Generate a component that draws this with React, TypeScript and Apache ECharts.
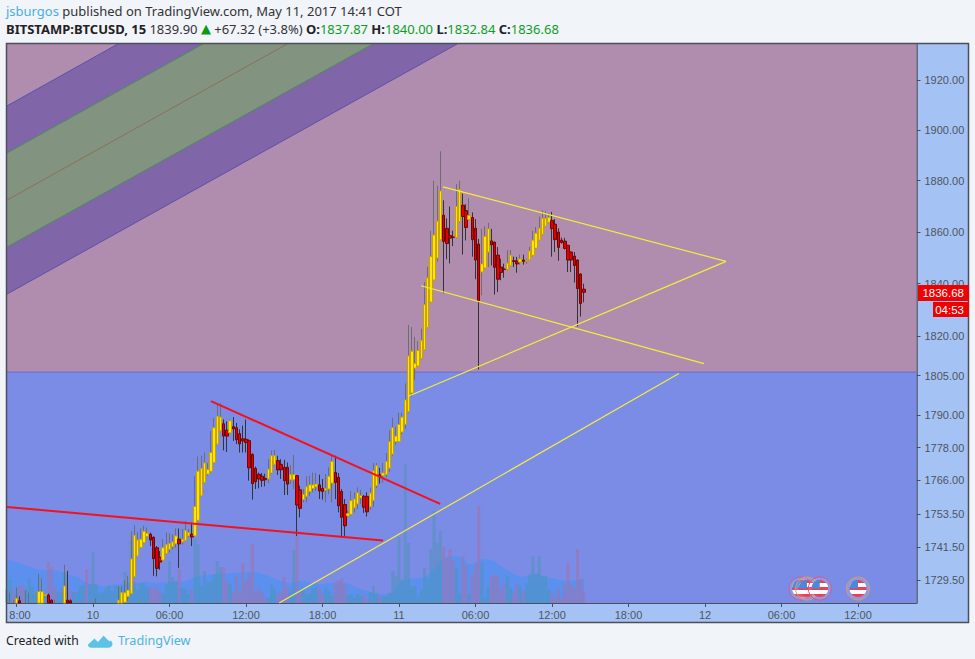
import React, { useEffect, useRef } from "react";
import * as echarts from "echarts";

// ---------- data ----------
const firstBar = -123; // bar index of the first candle; index 0 is 11 May 00:00, one bar = 15 min
// [open, close, low, high]
const candles: number[][] = [
  [1716,1718,1715,1720],[1716,1718,1715,1724.9],[1718,1716,1714,1722.2],[1718,1722.8,1716,1726.8],[1722,1719,1717,1723.6],
  [1719,1717,1715,1720],[1717,1719,1716,1725.8],[1716,1718,1714,1724.9],[1717,1718,1714,1720],[1717,1718,1713,1719],
  [1719,1725.3,1718,1731.7],[1718,1725.3,1717,1730.1],[1723.8,1724.2,1723.5,1724.5],[1724,1716,1712,1724.6],[1722.2,1720,1718,1722.5],
  [1720,1718,1716,1722.4],[1717,1718,1715,1719],[1716.5,1718.2,1715,1719.4],[1721,1727.3,1720,1735],[1722.2,1720,1716,1732.8],
  [1722,1720.5,1718,1722.5],[1719,1720,1717,1720.6],[1718,1719.5,1716,1720.2],[1717,1718.6,1715,1719.5],[1716.5,1718,1714.5,1719],
  [1718,1716,1713,1719],[1715,1717,1713,1718],[1715,1717.5,1712,1719],[1716,1718.5,1714,1722.8],[1716.5,1718,1715,1719.5],
  [1716,1718.5,1715,1720],[1716.5,1719,1715.5,1720],[1717,1719,1716,1720.5],[1717.5,1719.5,1716,1720.6],[1718,1720,1716.5,1720.8],
  [1721.2,1722.2,1720,1727.3],[1721.2,1724.9,1720,1727.3],[1721.5,1724.9,1720,1729.3],[1723.6,1725.8,1722,1731],[1724.6,1737.1,1724.4,1747.2],
  [1730.7,1745.7,1730.5,1749.4],[1738.2,1744,1738.2,1747],[1741.3,1744.3,1741,1748.2],[1743,1747.2,1742.8,1749.2],[1745.3,1746.5,1745,1748.6],
  [1746.1,1744,1741.8,1746.7],[1745,1737.2,1731,1745.3],[1741.2,1733.7,1730.8,1741.8],[1737.7,1736,1733.2,1740],[1736.7,1741.2,1736.3,1744.3],
  [1739.1,1742.3,1738.8,1746.7],[1740.6,1742.7,1739.4,1746.5],[1741.6,1743.3,1740.6,1746.1],[1742.6,1745.5,1741.2,1748.2],[1744.3,1742.6,1733.9,1748.2],
  [1743.3,1744.3,1742.4,1748],[1743.8,1747.4,1743.6,1751],[1745.5,1746.7,1745,1748],[1746.1,1745.1,1741.8,1750.4],[1745.5,1756.3,1745.5,1767.4],
  [1751.2,1769.3,1750.9,1774.7],[1760.2,1770.3,1760.2,1775],[1765.1,1772.3,1764.9,1776.2],[1768.2,1769.9,1767.6,1772.3],[1769.2,1776.2,1768.9,1784.2],
  [1772.5,1785.4,1772.3,1789],[1779.3,1789.7,1779.3,1794.6],[1784.3,1789.4,1784.2,1794.6],[1786.9,1782.3,1777,1788.5],[1784.5,1782.3,1776.4,1787.8],
  [1783.5,1788,1783.3,1788.5],[1785.8,1785,1780.5,1789.4],[1785.4,1780.9,1779.3,1787.2],[1783.2,1779.4,1776.2,1784.8],[1781.3,1780.5,1776.2,1786.2],
  [1781.1,1779.9,1776.2,1788.5],[1780.6,1770.5,1765.8,1781.1],[1775.5,1764.7,1758.8,1775.9],[1770.3,1765.4,1762.7,1771],[1768.1,1766.4,1762.9,1768.8],
  [1767.4,1765.9,1763.5,1768.6],[1766.6,1766.1,1763.7,1768.3],[1766.4,1770,1764.9,1773.7],[1768.6,1775,1768.2,1777],[1771.8,1775,1771.5,1777.2],
  [1773.2,1769.8,1767.9,1775],[1771.8,1769.8,1766.4,1773.7],[1770.7,1765.8,1760.5,1773.5],[1770.7,1764.5,1760.5,1772.5],[1766.1,1768,1764.5,1771.5],
  [1766.1,1768,1762.7,1775.3],[1767.6,1756.8,1745.5,1767.9],[1762.4,1755.6,1752.3,1763.9],[1758.8,1760.7,1757.8,1762.7],[1760,1763.5,1757.8,1767.4],
  [1761.8,1764.2,1760.2,1767.6],[1762.9,1764.2,1761.5,1768.8],[1763.5,1764.5,1762,1768.6],[1764.2,1762,1759,1768],[1762.9,1761.8,1758.8,1766.4],
  [1762.3,1762.9,1757.8,1768.2],[1762.7,1767.4,1760.8,1770.7],[1764.9,1772.9,1757.8,1775.3],[1768.8,1765.1,1759,1775],[1767,1756.5,1754.1,1768.6],
  [1761.8,1752.3,1745.5,1762.7],[1757,1749.2,1745.5,1759],[1752.8,1753.7,1752.3,1754.8],[1753.4,1758.4,1752.9,1762],[1755.8,1759,1754.1,1761.5],
  [1757.2,1761.3,1755.3,1763.3],[1759.4,1760.2,1757.2,1762.4],[1760,1756,1753.9,1760.5],[1760,1754.3,1752.6,1761.5],[1756.3,1761.2,1755,1763.2],
  [1758.5,1769.4,1756,1772.3],[1763.9,1771.3,1763,1772.3],[1767.9,1767.4,1764.7,1770.5],[1767.6,1768.6,1765,1772.3],[1768,1772.8,1767,1776],
  [1770.4,1780.2,1769,1784.5],[1775.6,1785.4,1775,1789.2],[1780.2,1782.3,1779,1785.8],[1780.2,1786.6,1780,1791],[1783.8,1789.4,1783,1791],
  [1786.7,1795.8,1785,1802],[1791.4,1812.4,1791,1824.2],[1798.4,1814.2,1797,1823.4],[1807.8,1809.6,1803.4,1819.6],[1808.6,1814.5,1808.3,1818],
  [1811.4,1818.3,1811.1,1822.7],[1814.7,1831.9,1814.5,1840.6],[1823.2,1842.2,1823,1846.5],[1832.9,1850.4,1832.7,1860.4],[1841.4,1858.8,1841.2,1880],
  [1849.9,1864.2,1848.6,1878.1],[1857,1876,1856.8,1891.6],[1866.5,1856.3,1836.3,1872.3],[1861.4,1855.5,1849.4,1865.3],[1858.6,1857.6,1847.8,1869.9],
  [1858,1857.9,1854.5,1860.5],[1857.8,1869.9,1857.5,1878.7],[1864,1876.6,1863.7,1880],[1870.4,1866,1851.2,1874.9],[1868.3,1861.7,1856.7,1870.8],
  [1864.8,1866.4,1864.5,1873.1],[1865.6,1857,1850.4,1867.6],[1861.4,1849.1,1841.7,1865],[1855.3,1833.4,1807.3,1857.3],[1844.5,1847.6,1835.5,1861.2],
  [1846,1858.3,1845.7,1862.2],[1852.2,1861.2,1846.4,1863.5],[1856.5,1855,1847,1861.2],[1856,1846.3,1835.8,1856.3],[1851,1841.7,1836.8,1854.1],
  [1846.4,1844.3,1841.3,1849.6],[1845.6,1845.5,1842.3,1847.7],[1845.5,1847.9,1845.1,1853],[1846.9,1851,1846.7,1853],[1848.8,1848.6,1846.4,1850.4],
  [1848.7,1847.6,1844.2,1850.3],[1848.3,1849.5,1847.3,1851.2],[1849.1,1848.6,1847.3,1851.2],[1848.7,1849.1,1847.7,1849.6],[1849.1,1852.6,1848.8,1854.2],
  [1850.9,1856.8,1850.6,1860.4],[1853.7,1859.5,1853.4,1861.9],[1856.8,1861.4,1856.5,1866],[1859,1865.3,1858.7,1868.3],[1862.2,1865.3,1861.9,1868],
  [1863.7,1865.6,1863.4,1867.3],[1864.5,1861.3,1850.4,1867.8],[1863,1857,1852.2,1865],[1859.9,1854,1848.8,1861.4],[1856.8,1855.9,1855.4,1857.8],
  [1856.4,1853.6,1853.2,1857.7],[1854.8,1849.1,1844.5,1855],[1852.2,1849.1,1844.5,1852.4],[1850.6,1847,1840.4,1852.2],[1849.1,1838.1,1823.6,1849.4],
  [1843.7,1832.4,1827.4,1844],[1837.87,1836.68,1832.84,1840],
];
const volumes: number[] = [
  14,23,14,9,17,18,13,25,16,11,11,12,9,41,36,16,11,11,31,23,12,11,10,17,18,34,19,51,19,10,11,14,17,12,17,17,14,31,21,62,
  21,14,20,20,16,16,15,16,12,9,19,42,26,22,34,15,14,9,14,64,59,17,32,21,22,29,42,36,36,21,19,11,27,12,40,23,29,59,11,16,
  11,6,5,18,14,9,11,26,16,12,53,74,14,15,9,10,15,17,15,9,16,12,7,20,23,25,19,7,9,5,9,7,9,4,11,17,10,7,7,7,
  10,32,27,66,24,139,60,17,17,7,14,35,24,54,92,60,72,56,45,54,42,35,10,47,38,9,28,39,97,40,5,16,27,29,27,14,20,27,15,10,
  19,17,12,20,29,47,29,47,27,27,14,10,5,14,5,19,40,19,15,54,24,12,
];
// [bar index, average volume], read at the visible bends of the average
const volumeAverage: number[][] = [
  [-123,43],[-120,41],[-118,39],[-115,35],[-112,33],[-109,33],[-107,32],[-104,29],[-101,26],[-99,22],[-97,19],[-95,18],[-92,17],
  [-88,19],[-84,19],[-80,21],[-76,20],[-72,21],[-68,21],[-64,26],[-60,28],[-56,29],[-52,30],[-46,31],[-41,27],[-38,23],[-34,20],
  [-31,22],[-25,19],[-18,21],[-13,15],[-10,12],[-6,9],[-3,9],[0,20],[3,24],[8,26],[11,34],[14,44],[17,47],[20,45],[22,39],[24,40],
  [26,44],[29,43],[32,37],[35,31],[39,26],[43,29],[46,26],[49,24],[53,22],[58,24],
];
const timeTicks = [-120, -96, -72, -48, -24, 0, 24, 48, 72, 96, 120, 144];
const timeLabels = ["8:00", "10", "06:00", "12:00", "18:00", "11", "06:00", "12:00", "18:00", "12", "06:00", "12:00"];
const priceTicks = [1729.5, 1741.5, 1753.5, 1766, 1778, 1790, 1805, 1820, 1840, 1860, 1880, 1900, 1920];
const priceMin = 1721.2;
const priceMax = 1934.5;
const barMin = -122.98;
const barMax = 162.35;
const zoneSplit = 1806.3;
// [from bar, from price, to bar, to price]
const triangleLines = [
  [13.8, 1877.6, 102.6, 1848.6],
  [3.1, 1797.3, 102.6, 1848.6],
  [6.9, 1839.2, 95.7, 1809.5],
  [-37.6, 1721.2, 87.8, 1805.8],
];
const redLines = [
  [-59, 1795.4, 12.9, 1757.2],
  [-123, 1756.1, -5, 1743.8],
];
// regression channel: price at the left edge, bar where it leaves at the top
const channelStart = [1909.6, 1890.9, 1872.4, 1854.1, 1836];
const channelExit = [-88.2, -61.5, -35.1, -8.2, 18.2];
const eventBars = [126, 128, 132, 144];
const eventKinds = [0, 1, 0, 1];
const eventPrice = 1726.4;

const C = {
  page: "#F1F4F9", pane: "#A4C3F4", frame: "#4C4F5A", upper: "#B08CAE", lower: "#7A8CE5", zoneLine: "#6A6CCB",
  purple: "#8066A8", green: "#82937F", edgeBlue: "#5A50AE", edgeGreen: "#4B8B5E", edgeBrown: "#8F6F55",
  upFill: "#FFE600", upEdge: "#C9A400", downFill: "#E10000", downEdge: "#6E0606", upWick: "#6E6E6E", downWick: "#333333",
  volUp: "rgba(66,150,170,0.42)", volDown: "rgba(170,110,165,0.5)", avg: "rgba(50,150,250,0.6)",
  yellow: "#F5EC3C", red: "#F5101E", text: "#4F5460", label: "#F00000", cloud: "#5EC1E8", link: "#4FB3DE", green2: "#0F9D1E",
};

const logoCloud = "M0 12.5 L6.5 6.2 L10 9.5 L15.5 3 L19.5 7.5 C22.5 7.6 24.5 9.6 24.5 12 C24.5 14.4 22.4 15.8 20 15.8 L3.2 15.8 C1.2 15.8 0 14.5 0 12.5 Z";
echarts.graphic.registerShape("tvLogo", echarts.graphic.extendPath(logoCloud as any, {}) as any);

export default function App() {
  const ref = useRef<HTMLDivElement>(null);
  useEffect(() => {
    document.body.style.margin = "0";
    document.body.style.background = C.page;
    const chart = echarts.init(ref.current!, null, { renderer: "svg" });
    // candlestick marks are not cut at the axis, so parts below the axis minimum are stopped there
    const floor = (v: number) => Math.max(v, priceMin);
    const rows = candles
      .map((c, i) => [firstBar + i, floor(c[0]), floor(c[1]), floor(c[2]), floor(c[3])])
      .filter((r) => r[4] > priceMin);
    const bodies = candles
      .map((c, i) => [firstBar + i, floor(c[0]), floor(c[1]), floor(Math.min(c[0], c[1])), floor(Math.max(c[0], c[1]))])
      .filter((r) => r[4] > priceMin);
    const volumeRows = volumes.map((v, i) => ({
      value: [firstBar + i, v],
      itemStyle: { color: candles[i][1] >= candles[i][0] ? C.volUp : C.volDown },
    }));
    const lineSeries = (p: number[], color: string, width: number, z: number) => ({
      type: "line", data: [[p[0], p[1]], [p[2], p[3]]], showSymbol: false, symbol: "none", silent: true, z,
      lineStyle: { color, width }, xAxisIndex: 0, yAxisIndex: 0,
    });
    const channelRows = [0, 1, 2, 3].map((i) => [firstBar, channelStart[i], channelExit[i], priceMax, channelExit[i + 1], priceMax, firstBar, channelStart[i + 1], i]);
    const channelColors = [C.purple, C.green, C.green, C.purple];
    const edgeColors = [C.edgeBlue, C.edgeGreen, C.edgeBrown, C.edgeGreen, C.edgeBlue];
    chart.setOption({
      animation: false,
      backgroundColor: "transparent",
      grid: { left: 7, top: 44, width: 909.5, height: 559, containLabel: false },
      xAxis: {
        type: "value", min: barMin, max: barMax, splitLine: { show: false },
        axisLine: { lineStyle: { color: C.frame, width: 1 }, onZero: false },
        axisTick: { customValues: timeTicks, length: 4, lineStyle: { color: C.frame } },
        axisLabel: {
          customValues: timeTicks, color: C.text, fontSize: 11, fontFamily: "Liberation Sans, Arial", margin: 6,
          formatter: (v: number) => {
            const s = timeLabels[timeTicks.indexOf(v)] ?? "";
            return s === "8:00" ? "{clip|8:00}" : s;
          },
          rich: { clip: { padding: [0, 0, 0, 7], fontSize: 11, color: C.text, fontFamily: "Liberation Sans, Arial" } },
        },
      },
      yAxis: [
        {
          type: "log", logBase: 10, position: "right", min: priceMin, max: priceMax, splitLine: { show: false },
          axisLine: { show: true, onZero: false, lineStyle: { color: C.frame, width: 1.5 } },
          axisTick: { customValues: priceTicks, length: 4, lineStyle: { color: C.frame } },
          axisLabel: {
            customValues: priceTicks, color: C.text, fontSize: 11, fontFamily: "Liberation Sans, Arial", margin: 8,
            formatter: (v: number) => v.toFixed(2),
          },
        },
        { type: "value", min: 0, max: 559, show: false, splitLine: { show: false } },
      ],
      series: [
        {
          type: "custom", name: "zones", silent: true, z: 1, clip: true, encode: { x: 0, y: 1 },
          data: [[barMin, zoneSplit, barMax, priceMax, 0], [barMin, priceMin, barMax, zoneSplit, 1]],
          renderItem: (_: any, api: any) => {
            const a = api.coord([api.value(0), api.value(1)]);
            const b = api.coord([api.value(2), api.value(3)]);
            const isUpper = api.value(4) === 0;
            return {
              type: "rect",
              shape: { x: a[0], y: b[1], width: b[0] - a[0], height: a[1] - b[1] },
              style: { fill: isUpper ? C.upper : C.lower },
            };
          },
        },
        lineSeries([barMin, zoneSplit, barMax, zoneSplit], C.zoneLine, 1, 1.2),
        {
          type: "custom", name: "channel", silent: true, z: 1.5, clip: true, encode: { x: 0, y: 1 },
          data: channelRows,
          renderItem: (_: any, api: any) => {
            const pts = [0, 2, 4, 6].map((i) => api.coord([api.value(i), api.value(i + 1)]));
            return { type: "polygon", shape: { points: pts }, style: { fill: channelColors[api.value(8)] } };
          },
        },
        ...channelStart.map((p, i) => lineSeries([firstBar, p, channelExit[i], priceMax], edgeColors[i], 1, 2)),
        {
          type: "line", name: "Volume MA", xAxisIndex: 0, yAxisIndex: 1, data: volumeAverage, smooth: 0.3, showSymbol: false, symbol: "none",
          silent: true, z: 3, lineStyle: { width: 0 }, areaStyle: { color: C.avg, origin: "start" },
        },
        {
          type: "bar", name: "Volume", xAxisIndex: 0, yAxisIndex: 1, data: volumeRows, barWidth: 3, silent: true, z: 3.5,
        },
        {
          type: "candlestick", name: "BTCUSD wicks", xAxisIndex: 0, yAxisIndex: 0, data: rows, barWidth: 1, silent: true, z: 4, clip: true,
          itemStyle: { color: C.upWick, color0: C.downWick, borderColor: C.upWick, borderColor0: C.downWick, borderWidth: 1 },
        },
        {
          type: "candlestick", name: "BTCUSD", xAxisIndex: 0, yAxisIndex: 0, data: bodies, barWidth: 3, silent: true, z: 5, clip: true,
          itemStyle: { color: C.upFill, color0: C.downFill, borderColor: C.upEdge, borderColor0: C.downEdge, borderWidth: 1 },
        },
        ...triangleLines.map((p) => lineSeries(p, C.yellow, 1.2, 6)),
        ...redLines.map((p) => lineSeries(p, C.red, 2, 6)),
        {
          type: "custom", name: "events", silent: true, z: 7, clip: false, encode: { x: 0, y: 1 },
          data: eventBars.map((b, i) => [b, eventPrice, eventKinds[i]]),
          renderItem: (_: any, api: any) => {
            const p = api.coord([api.value(0), api.value(1)]);
            const ring = api.value(2) === 0 ? "#E0587E" : "#E09A5A";
            const stops: any[] = [];
            const bands = ["#F04050", "#FFFFFF", "#F04050", "#FFFFFF", "#F04050"];
            bands.forEach((c, i) => {
              stops.push({ offset: i / 5, color: c }, { offset: (i + 1) / 5, color: c });
            });
            return {
              type: "group", x: p[0], y: p[1],
              children: [
                { type: "circle", shape: { cx: 0, cy: 0, r: 11.5 }, style: { fill: "rgba(255,255,255,0.12)", stroke: ring, lineWidth: 1 } },
                { type: "circle", shape: { cx: 0, cy: 0, r: 8.5 }, style: { fill: new echarts.graphic.LinearGradient(0, 0, 0, 1, stops) } },
                { type: "sector", shape: { cx: 0, cy: 0, r: 8.5, r0: 0, startAngle: Math.PI, endAngle: Math.PI * 1.5 }, style: { fill: "#4A88DC" } },
              ],
            };
          },
        },
      ],
      graphic: [
        { type: "rect", z: -5, silent: true, shape: { x: 6.5, y: 43.5, width: 962, height: 579 }, style: { fill: C.pane } },
        { type: "rect", z: 60, silent: true, shape: { x: 6.5, y: 43.5, width: 962, height: 579 }, style: { fill: "none", stroke: C.frame, lineWidth: 1.5 } },
        {
          type: "text", z: 60, x: 6, y: 4, silent: true,
          style: {
            text: "{a|jsburgos} {b|published on TradingView.com, May 11, 2017 14:41 COT}",
            rich: {
              a: { fill: "#4AAEDF", fontSize: 13, fontFamily: "Noto Sans" },
              b: { fill: "#333333", fontSize: 13, fontFamily: "Noto Sans" },
            },
          } as any,
        },
        {
          type: "text", z: 60, x: 6, y: 22, silent: true,
          style: {
            text: "{k|BITSTAMP:BTCUSD, 15} {b|1839.90} {t|▲} {b|+67.32 (+3.8%)} {k|O:}{g|1837.87} {k|H:}{g|1840.00} {k|L:}{g|1832.84} {k|C:}{g|1836.68}",
            rich: {
              k: { fill: "#222222", fontSize: 13, fontWeight: "bold", fontFamily: "Noto Sans" },
              b: { fill: "#333333", fontSize: 13, fontFamily: "Noto Sans" },
              t: { fill: "#0A9A14", fontSize: 13, fontFamily: "DejaVu Sans" },
              g: { fill: C.green2, fontSize: 13, fontFamily: "Noto Sans" },
            },
          } as any,
        },
        { type: "rect", z: 61, silent: true, shape: { x: 918, y: 285, width: 51, height: 16 }, style: { fill: C.label } },
        { type: "text", z: 62, silent: true, x: 964, y: 293, style: { text: "1836.68", fill: "#FFFFFF", fontSize: 11.5, fontFamily: "Liberation Sans, Arial", align: "right", verticalAlign: "middle" } },
        { type: "rect", z: 61, silent: true, shape: { x: 933, y: 302, width: 36, height: 15 }, style: { fill: C.label } },
        { type: "text", z: 62, silent: true, x: 964, y: 310, style: { text: "04:53", fill: "#FFFFFF", fontSize: 11.5, fontFamily: "Liberation Sans, Arial", align: "right", verticalAlign: "middle" } },
        { type: "text", z: 60, silent: true, x: 6, y: 634, style: { text: "Created with", fill: "#222222", fontSize: 12.2, fontFamily: "Noto Sans" } },
        { type: "tvLogo", z: 60, silent: true, x: 88, y: 632, style: { fill: C.cloud } },
        { type: "polyline", z: 61, silent: true, shape: { points: [[88.5, 643], [94.5, 637.5], [98, 641], [103.5, 634.5], [110, 641]] }, style: { fill: "none", stroke: C.page, lineWidth: 1.2 } },
        { type: "text", z: 60, silent: true, x: 118, y: 634, style: { text: "TradingView", fill: C.link, fontSize: 12.6, fontFamily: "Noto Sans" } },
      ],
    });
    return () => chart.dispose();
  }, []);
  return <div ref={ref} style={{ position: "absolute", left: 0, top: 0, width: 975, height: 659, background: C.page }} />;
}
